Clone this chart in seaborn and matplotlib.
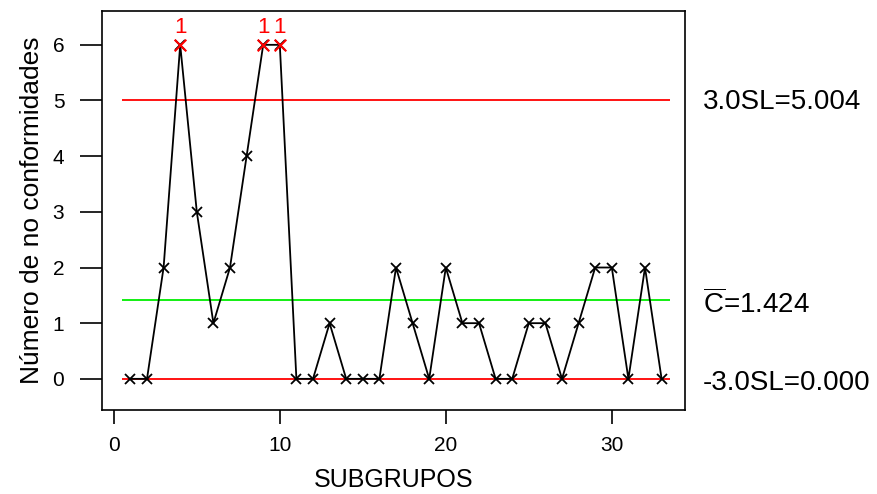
import numpy as np
import pandas as pd
import matplotlib
matplotlib.use("Agg")
import matplotlib.pyplot as plt
import seaborn as sns

# -----------------------------
# Data (C chart of nonconformities)
# -----------------------------
subgroups = list(range(1, 34))
counts = [0, 0, 2, 6, 3, 1, 2, 4, 6, 6,
          0, 0, 1, 0, 0, 0, 2, 1, 0, 2,
          1, 1, 0, 0, 1, 1, 0, 1, 2, 2,
          0, 2, 0]
ucl = 5.004
center = 1.424
lcl = 0.0
limit_labels = ["3.0SL=5.004", r"$\overline{\mathrm{C}}$=1.424", "-3.0SL=0.000"]
x_ticks = [0, 10, 20, 30]
y_ticks = [0, 1, 2, 3, 4, 5, 6]

df = pd.DataFrame({"subgroup": subgroups, "count": counts})
out = df[df["count"] > ucl]

# -----------------------------
# Style
# -----------------------------
sns.set_style("ticks")
plt.rcParams["font.family"] = ["Liberation Sans", "DejaVu Sans"]
plt.rcParams["mathtext.fontset"] = "custom"
plt.rcParams["mathtext.rm"] = "Liberation Sans"
plt.rcParams["text.color"] = "black"
plt.rcParams["axes.labelcolor"] = "black"

fig = plt.figure(figsize=(8.78, 4.94), dpi=100)
ax = fig.add_axes([0.116, 0.170, 0.664, 0.808])

# control limits
ax.hlines(ucl, 0.5, 33.5, color="red", lw=1.3)
ax.hlines(center, 0.5, 33.5, color="#00ee00", lw=1.3)
ax.hlines(lcl, 0.5, 33.5, color="red", lw=1.3)

# series
sns.lineplot(data=df, x="subgroup", y="count", color="black", lw=1.3,
             marker="x", markersize=7, markeredgewidth=1.3,
             markeredgecolor="black", ax=ax)
sns.scatterplot(data=out, x="subgroup", y="count", marker="x", color="red",
                s=70, linewidth=1.5, ax=ax, zorder=5)
for xv, yv in zip(out["subgroup"], out["count"]):
    ax.annotate("1", (xv, yv), xytext=(0, 5), textcoords="offset points",
                ha="center", va="bottom", color="red", fontsize=16)

ax.set_xlim(-0.72, 34.4)
ax.set_ylim(-0.56, 6.61)
ax.set_xticks(x_ticks)
ax.set_yticks(y_ticks)
ax.tick_params(axis="x", length=10, width=1.2, labelsize=15, pad=9,
               colors="black")
ax.tick_params(axis="y", length=16, width=1.2, labelsize=15, pad=11,
               colors="black")
for s in ax.spines.values():
    s.set_linewidth(1.2)
    s.set_color("black")

ax.set_xlabel("SUBGRUPOS", fontsize=18, labelpad=9)
ax.set_ylabel("Número de no conformidades", fontsize=19, labelpad=6)

# limit labels on the right
trans = ax.get_yaxis_transform()
for yv, lab, dy in zip([ucl, center, lcl], limit_labels, [-1, -3, -3]):
    ax.annotate(lab, (1.031, yv), xycoords=trans, xytext=(0, dy),
                textcoords="offset points", ha="left", va="center",
                fontsize=20, annotation_clip=False)

plt.savefig("out.png", dpi=100)
